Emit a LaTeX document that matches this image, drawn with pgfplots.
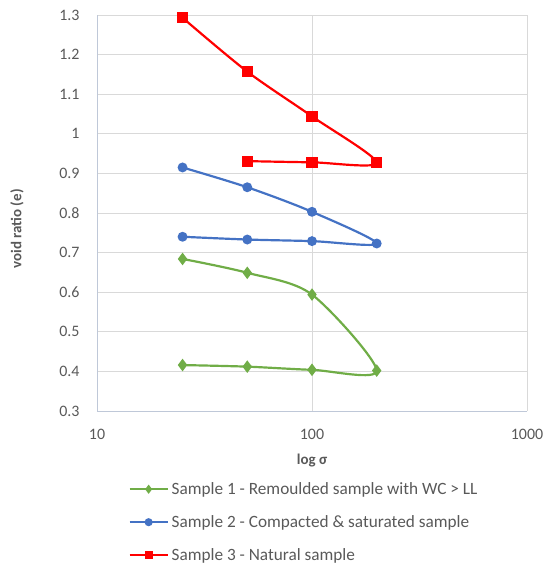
\documentclass[border=0pt]{standalone}
\usepackage{pgfplots}
\pgfplotsset{compat=1.18}
\usepackage{fontspec}
\setmainfont{Carlito}
\definecolor{txt}{HTML}{595959}
\definecolor{grd}{HTML}{D9D9D9}
\definecolor{axl}{HTML}{BFC8D8}
\definecolor{cgreen}{HTML}{70AD47}
\definecolor{cblue}{HTML}{4472C4}
\definecolor{cred}{HTML}{FF0000}
\begin{document}
\begin{tikzpicture}
\path[use as bounding box] (-97bp,-158bp) rectangle (451bp,411bp);
\begin{axis}[
  scale only axis,
  width=430bp, height=396bp,
  xmode=log, log basis x=10,
  xmin=10, xmax=1000, ymin=0.3, ymax=1.3,
  xtick={10,100,1000}, xticklabels={10,100,1000},
  ytick={0.3,0.4,0.5,0.6,0.7,0.8,0.9,1,1.1,1.2,1.3},
  yticklabels={0.3,0.4,0.5,0.6,0.7,0.8,0.9,1,1.1,1.2,1.3},
  minor xtick={},
  major tick length=0pt,
  grid=major,
  major grid style={grd, line width=0.8pt},
  axis lines=left,
  axis line style={axl, line width=1pt, -},
  tick label style={font=\fontsize{16}{18}\selectfont, text=txt},
  xticklabel style={anchor=center, yshift=-23bp},
  yticklabel style={anchor=east, xshift=-14bp},
  xlabel={\textbf{log σ}},
  ylabel={\textbf{void ratio (e)}},
  label style={font=\fontsize{15}{17}\selectfont, text=txt},
  xlabel style={at={(axis description cs:0.5,0)}, anchor=center, yshift=-50bp},
  ylabel style={at={(axis description cs:-0.186,0.46)}, anchor=center},
  legend style={at={(0.4826,-0.17)}, anchor=north, draw=none, fill=none,
    font=\fontsize{17.3}{19.5}\selectfont, text=txt, row sep=15.5bp,
    legend cell align=left, nodes={inner xsep=3bp}},
  legend cell align=left,
  legend image code/.code={
    \draw[#1, line width=2pt, mark repeat=2, mark phase=2, mark size=3bp] plot coordinates {(0bp,0bp) (19bp,0bp) (38bp,0bp)};
  },
]
\addplot[cgreen, line width=2.2pt, smooth, tension=0.5, mark=diamond*, mark size=4.5bp, mark options={solid}]
 coordinates {(25,0.684) (50,0.649) (100,0.594) (200,0.402) (100,0.404) (50,0.412) (25,0.416)};
\addlegendentry{Sample 1 - Remoulded sample with WC > LL}
\addplot[cblue, line width=2.2pt, smooth, tension=0.5, mark=*, mark size=3.8bp]
 coordinates {(25,0.915) (50,0.865) (100,0.803) (200,0.723) (100,0.729) (50,0.733) (25,0.740)};
\addlegendentry{Sample 2 - Compacted \& saturated sample}
\addplot[cred, line width=2.2pt, smooth, tension=0.5, mark=square*, mark size=4.5bp]
 coordinates {(25,1.293) (50,1.157) (100,1.044) (200,0.927) (100,0.928) (50,0.931)};
\addlegendentry{Sample 3 - Natural sample}
\end{axis}
\end{tikzpicture}
\end{document}
